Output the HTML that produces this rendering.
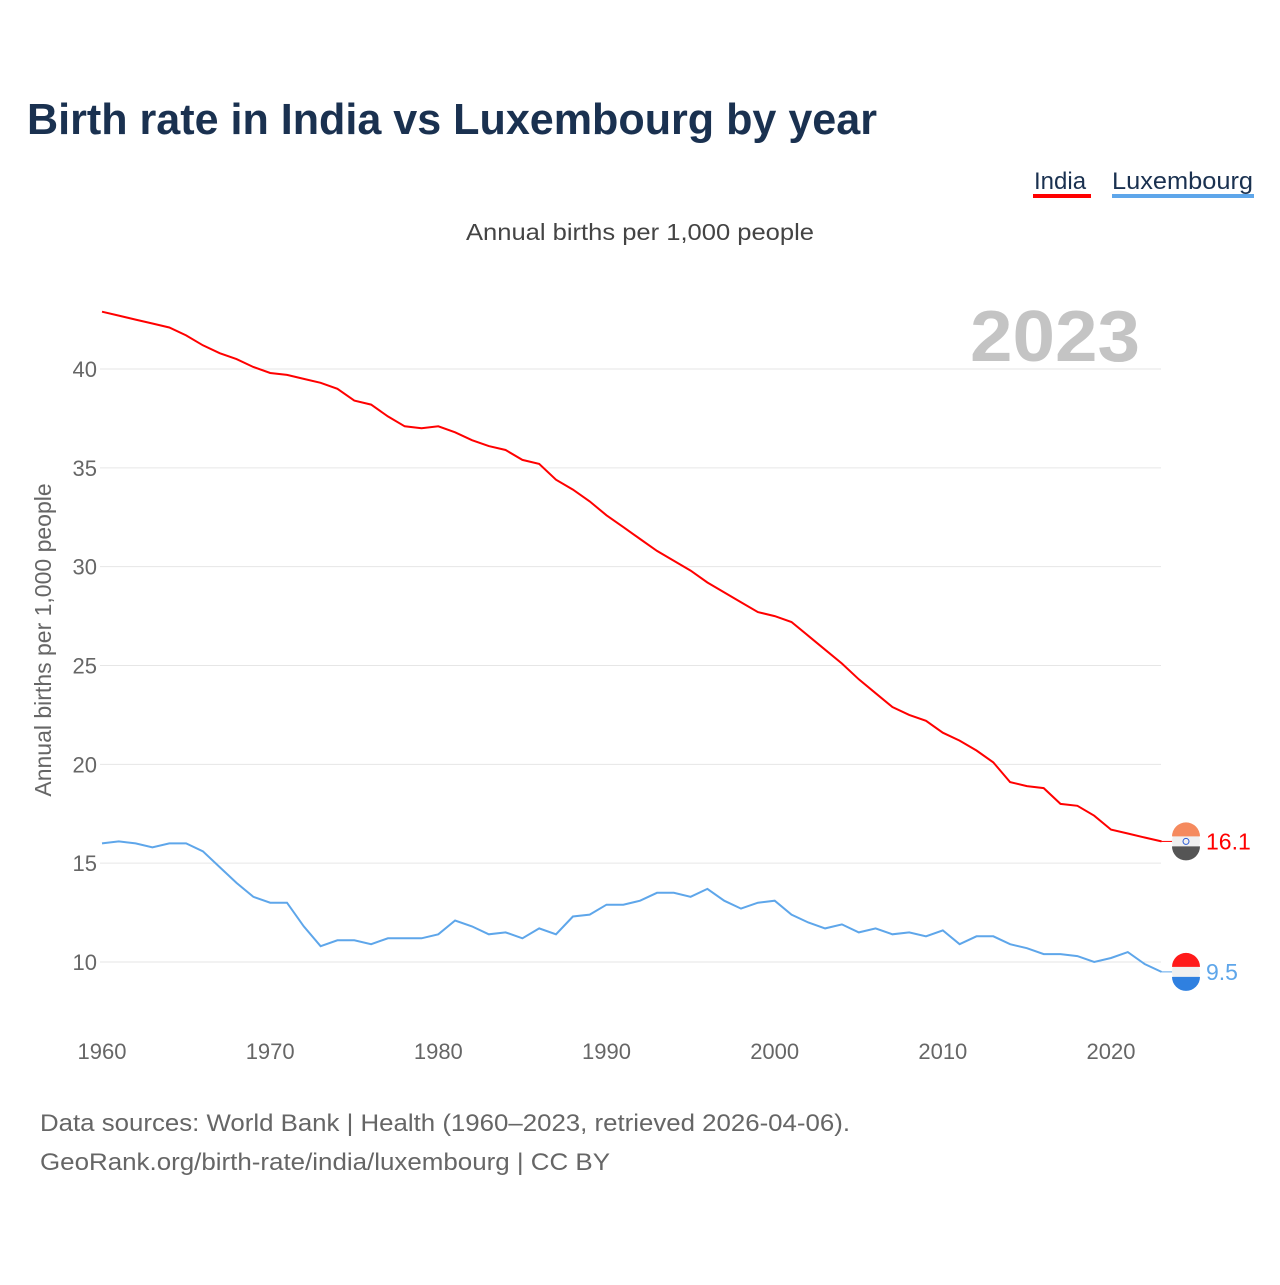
<!DOCTYPE html>
<html><head><meta charset="utf-8"><style>
body{margin:0;background:#fff;font-family:"Liberation Sans",sans-serif}
svg text{font-family:"Liberation Sans",sans-serif}
</style></head><body>
<svg id="c" width="1280" height="1280">
<text x="27" y="134" font-size="44" font-weight="bold" fill="#1a3150" textLength="850" lengthAdjust="spacingAndGlyphs">Birth rate in India vs Luxembourg by year</text>
<g><text x="1034" y="189" font-size="24" fill="#1a3150">India</text><rect x="1033" y="194" width="58" height="4" fill="#ff0000"/></g>
<g><text x="1112" y="189" font-size="24" fill="#1a3150" textLength="141" lengthAdjust="spacingAndGlyphs">Luxembourg</text><rect x="1112" y="194" width="142" height="4" fill="#5ea6ea"/></g>
<text x="466" y="240" font-size="23" fill="#444" textLength="348" lengthAdjust="spacingAndGlyphs">Annual births per 1,000 people</text>
<text x="970" y="361" font-size="72" font-weight="bold" fill="#c4c4c4" textLength="170" lengthAdjust="spacingAndGlyphs">2023</text>
<text transform="translate(51,640) rotate(-90)" font-size="23" fill="#666" text-anchor="middle">Annual births per 1,000 people</text>
<g id="grid"></g><g id="lines"></g>
<text x="40" y="1131" font-size="24" fill="#666" textLength="810" lengthAdjust="spacingAndGlyphs">Data sources: World Bank | Health (1960–2023, retrieved 2026-04-06).</text>
<text x="40" y="1170" font-size="24" fill="#666" textLength="570" lengthAdjust="spacingAndGlyphs">GeoRank.org/birth-rate/india/luxembourg | CC BY</text>
</svg>
<script>
const years=[];for(let y=1960;y<=2023;y++)years.push(y);
const india=[42.9,42.7,42.5,42.3,42.1,41.7,41.2,40.8,40.5,40.1,39.8,39.7,39.5,39.3,39.0,38.4,38.2,37.6,37.1,37.0,37.1,36.8,36.4,36.1,35.9,35.4,35.2,34.4,33.9,33.3,32.6,32.0,31.4,30.8,30.3,29.8,29.2,28.7,28.2,27.7,27.5,27.2,26.5,25.8,25.1,24.3,23.6,22.9,22.5,22.2,21.6,21.2,20.7,20.1,19.1,18.9,18.8,18.0,17.9,17.4,16.7,16.5,16.3,16.1];
const lux=[16.0,16.1,16.0,15.8,16.0,16.0,15.6,14.8,14.0,13.3,13.0,13.0,11.8,10.8,11.1,11.1,10.9,11.2,11.2,11.2,11.4,12.1,11.8,11.4,11.5,11.2,11.7,11.4,12.3,12.4,12.9,12.9,13.1,13.5,13.5,13.3,13.7,13.1,12.7,13.0,13.1,12.4,12.0,11.7,11.9,11.5,11.7,11.4,11.5,11.3,11.6,10.9,11.3,11.3,10.9,10.7,10.4,10.4,10.3,10.0,10.2,10.5,9.9,9.5];
const yTicks=[10,15,20,25,30,35,40];
const xTicks=[1960,1970,1980,1990,2000,2010,2020];
const NS="http://www.w3.org/2000/svg";
const X=v=>102+(v-1960)*(1009/60);
const Y=v=>369+(40-v)*(593/30);
const grid=document.getElementById('grid'),lines=document.getElementById('lines');
function mk(t,a,p){const e=document.createElementNS(NS,t);for(const k in a)e.setAttribute(k,a[k]);p.appendChild(e);return e;}
yTicks.forEach(v=>{
 const l=mk('line',{x1:100,x2:1161,y1:Y(v),y2:Y(v),stroke:'#e6e6e6','stroke-width':1},grid);
 
 
 const t=mk('text',{x:97,y:Y(v)+8,'font-size':22,fill:'#666','text-anchor':'end'},grid);t.textContent=v;
 
 
});
xTicks.forEach(v=>{
 const t=mk('text',{x:X(v),y:1059,'font-size':22,fill:'#666','text-anchor':'middle'},grid);t.textContent=v;
 
 
});
function series(d,col,name){
 const p=mk('path',{d:d.map((v,i)=>(i?'L':'M')+X(years[i]).toFixed(1)+','+Y(v).toFixed(1)).join(''),fill:'none',stroke:col,'stroke-width':2},lines);
 
 
 const last=d[d.length-1],cy=Y(last);
 const g=mk('g',{},lines);
 
 
 mk('line',{x1:X(2023),x2:1176,y1:cy,y2:cy,stroke:col,'stroke-width':1},g);
 return {g,cy,last};
}
let a=series(india,'#ff0000','india');
mk('circle',{cx:1186,cy:a.cy,r:14,fill:'#f0f0f0'},a.g);
mk('path',{d:`M1172,${a.cy-5}A14,14 0 0 1 1200,${a.cy-5}Z`,fill:'#f58a5e'},a.g);
mk('path',{d:`M1172,${a.cy+5}A14,14 0 0 0 1200,${a.cy+5}Z`,fill:'#555'},a.g);
mk('circle',{cx:1186,cy:a.cy,r:3,fill:'none',stroke:'#2a5bd7'},a.g);
let t=mk('text',{x:1206,y:a.cy+8,'font-size':23,fill:'#ff0000'},lines);t.textContent=a.last.toFixed(1);


let b=series(lux,'#5ea6ea','luxembourg');
mk('circle',{cx:1186,cy:b.cy,r:14,fill:'#f0f0f0'},b.g);
mk('path',{d:`M1172,${b.cy-5}A14,14 0 0 1 1200,${b.cy-5}Z`,fill:'#ff1a1a'},b.g);
mk('path',{d:`M1172,${b.cy+5}A14,14 0 0 0 1200,${b.cy+5}Z`,fill:'#2f80e0'},b.g);
t=mk('text',{x:1206,y:b.cy+8,'font-size':23,fill:'#5ea6ea'},lines);t.textContent=b.last.toFixed(1);


</script>
</body></html>
